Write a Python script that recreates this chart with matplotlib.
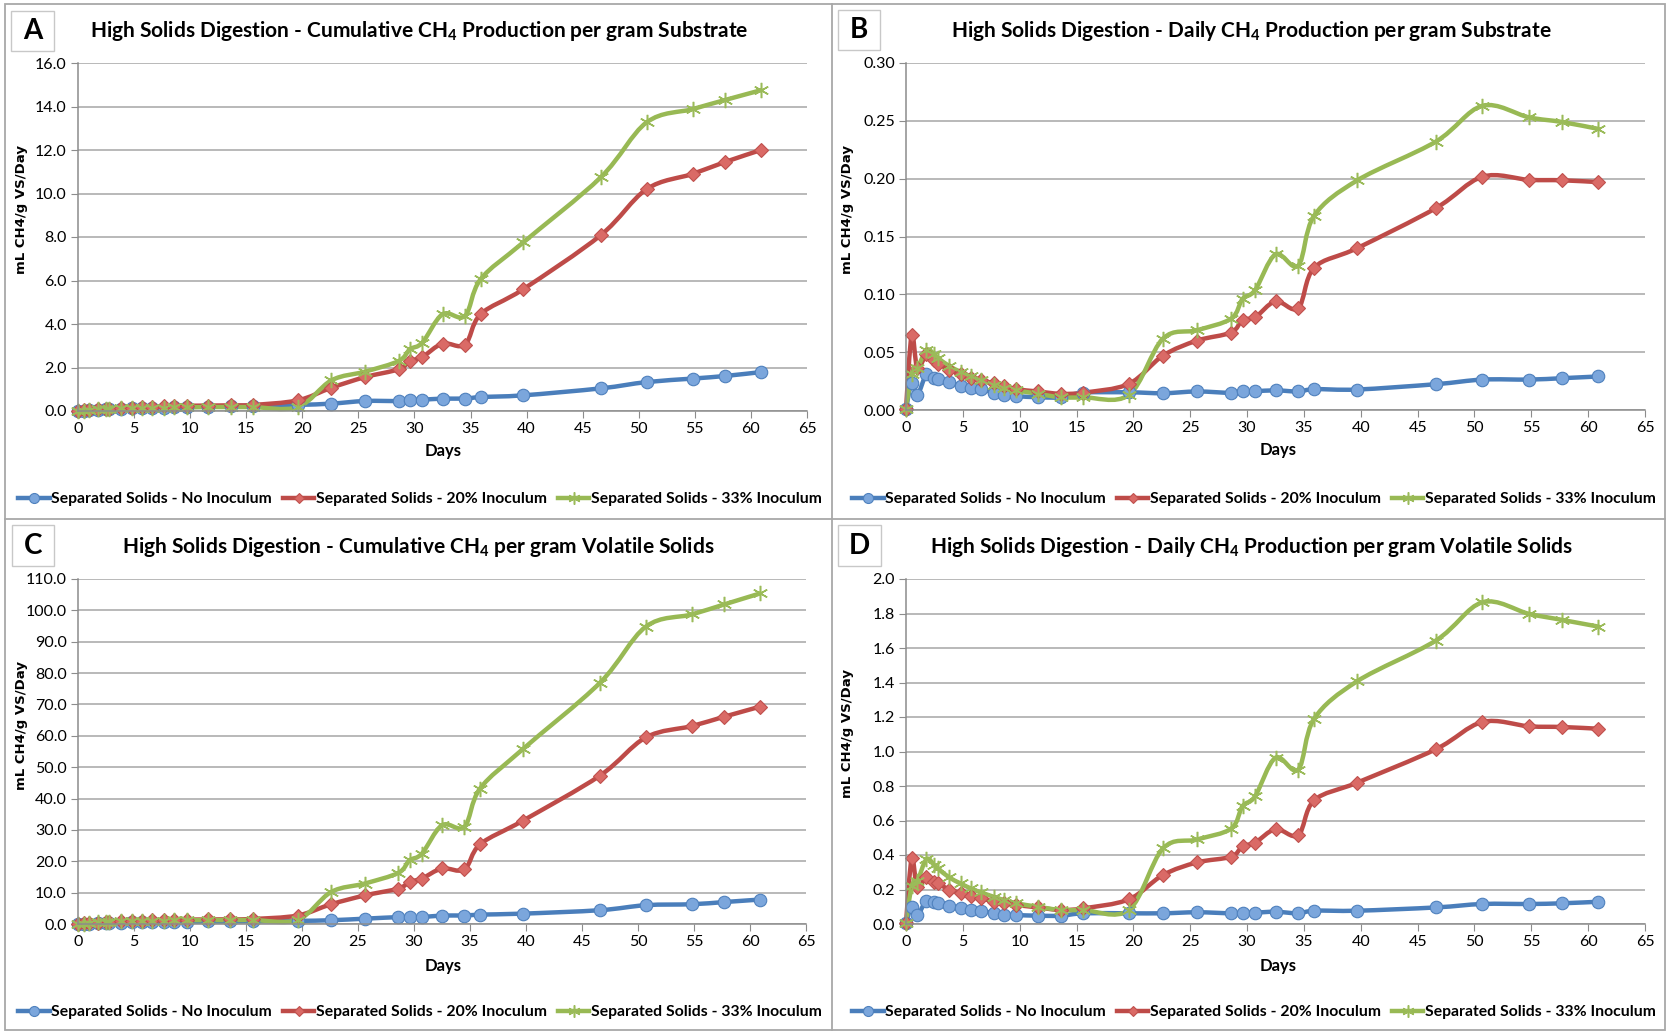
import matplotlib
matplotlib.use("Agg")
import matplotlib.pyplot as plt
from matplotlib.path import Path
from matplotlib.patches import PathPatch, Rectangle
from matplotlib.lines import Line2D
from matplotlib.ticker import FormatStrFormatter

plt.rcParams["font.family"] = ["Lato", "DejaVu Sans"]

# sampling days (shared by all series)
days = [0, 0.5, 1, 1.8, 2.5, 2.8, 3.8, 4.8, 5.7, 6.6, 7.7, 8.6, 9.7, 11.6, 13.6, 15.6,
        19.6, 22.6, 25.6, 28.6, 29.6, 30.7, 32.5, 34.5, 35.9, 39.7, 46.6, 50.7, 54.8, 57.7, 60.9]

series_names = ["Separated Solids - No Inoculum",
                "Separated Solids - 20% Inoculum",
                "Separated Solids - 33% Inoculum"]

# A - cumulative CH4 per gram substrate
blue_A = [0.0, 0.02, 0.03, 0.05, 0.07, 0.08, 0.10, 0.12, 0.13, 0.15, 0.16, 0.17, 0.18, 0.20, 0.22, 0.25,
          0.28, 0.34, 0.46, 0.46, 0.52, 0.52, 0.57, 0.57, 0.64, 0.72, 1.04, 1.33, 1.49, 1.61, 1.79]
red_A = [0.0, 0.03, 0.05, 0.08, 0.10, 0.11, 0.14, 0.16, 0.18, 0.20, 0.22, 0.23, 0.24, 0.25, 0.26, 0.28,
         0.49, 1.07, 1.56, 1.92, 2.30, 2.48, 3.10, 3.05, 4.45, 5.60, 8.08, 10.20, 10.90, 11.45, 12.00]
green_A = [0.0, 0.02, 0.04, 0.07, 0.09, 0.10, 0.12, 0.13, 0.14, 0.15, 0.16, 0.17, 0.17, 0.18, 0.18, 0.18,
           0.18, 1.41, 1.81, 2.30, 2.84, 3.14, 4.45, 4.37, 6.06, 7.75, 10.74, 13.27, 13.88, 14.30, 14.75]

# B - daily CH4 per gram substrate
blue_B = [0.001, 0.023, 0.013, 0.031, 0.028, 0.027, 0.024, 0.021, 0.019, 0.018, 0.015, 0.013, 0.012, 0.011, 0.011, 0.015,
          0.0153, 0.0145, 0.016, 0.0148, 0.016, 0.0162, 0.017, 0.016, 0.018, 0.0177, 0.0223, 0.0263, 0.0263, 0.0275, 0.029]
red_B = [0.001, 0.065, 0.036, 0.048, 0.043, 0.040, 0.035, 0.031, 0.028, 0.026, 0.023, 0.021, 0.018, 0.016, 0.014, 0.015,
         0.0226, 0.047, 0.060, 0.067, 0.078, 0.080, 0.094, 0.088, 0.123, 0.140, 0.1745, 0.2017, 0.199, 0.1986, 0.197]
green_B = [0.001, 0.031, 0.036, 0.052, 0.048, 0.045, 0.038, 0.033, 0.029, 0.026, 0.022, 0.019, 0.017, 0.014, 0.011, 0.011,
           0.013, 0.0617, 0.069, 0.079, 0.096, 0.1036, 0.1346, 0.1248, 0.168, 0.1986, 0.232, 0.263, 0.253, 0.249, 0.243]

# C - cumulative CH4 per gram volatile solids
blue_C = [0.0, 0.1, 0.15, 0.25, 0.3, 0.35, 0.45, 0.5, 0.55, 0.6, 0.65, 0.7, 0.75, 0.8, 0.85, 0.95,
          1.0, 1.2, 1.7, 2.2, 2.2, 2.2, 2.7, 2.7, 3.0, 3.3, 4.4, 6.0, 6.3, 7.0, 7.8]
red_C = [0.0, 0.2, 0.3, 0.45, 0.55, 0.65, 0.8, 0.95, 1.05, 1.15, 1.25, 1.3, 1.4, 1.45, 1.5, 1.6,
         2.7, 6.3, 9.1, 11.3, 13.4, 14.5, 17.7, 17.4, 25.4, 32.9, 47.3, 59.5, 63.1, 66.1, 69.3]
green_C = [0.0, 0.15, 0.3, 0.5, 0.6, 0.7, 0.85, 0.95, 1.0, 1.05, 1.1, 1.15, 1.2, 1.25, 1.25, 1.3,
           1.3, 10.2, 12.9, 16.3, 20.3, 22.4, 31.5, 31.0, 43.2, 55.7, 76.9, 94.8, 98.7, 101.9, 105.4]

# D - daily CH4 per gram volatile solids
blue_D = [0.005, 0.10, 0.052, 0.135, 0.125, 0.12, 0.104, 0.091, 0.081, 0.077, 0.062, 0.055, 0.052, 0.048, 0.048, 0.062,
          0.062, 0.062, 0.068, 0.062, 0.066, 0.066, 0.071, 0.062, 0.077, 0.077, 0.096, 0.116, 0.116, 0.12, 0.129]
red_D = [0.005, 0.38, 0.212, 0.274, 0.245, 0.235, 0.20, 0.18, 0.162, 0.149, 0.13, 0.12, 0.11, 0.096, 0.081, 0.091,
         0.143, 0.284, 0.357, 0.39, 0.451, 0.471, 0.55, 0.515, 0.717, 0.82, 1.013, 1.171, 1.146, 1.142, 1.132]
green_D = [0.005, 0.22, 0.25, 0.376, 0.34, 0.322, 0.27, 0.235, 0.206, 0.183, 0.158, 0.139, 0.12, 0.1, 0.081, 0.081,
           0.081, 0.438, 0.49, 0.553, 0.683, 0.74, 0.964, 0.895, 1.19, 1.408, 1.643, 1.865, 1.798, 1.763, 1.724]

W, H = 1669, 1032
fig = plt.figure(figsize=(W / 100, H / 100), dpi=100)


def fx(px):
    return px / W


def fy(py):
    return 1 - py / H


def smooth_path(x, y):
    # Excel-style smoothed line as cubic bezier segments through the points
    n = len(x)
    verts = [(x[0], y[0])]
    codes = [Path.MOVETO]
    for i in range(n - 1):
        a = max(i - 1, 0)
        b = min(i + 2, n - 1)
        c1 = (x[i] + (x[i + 1] - x[a]) / 6, y[i] + (y[i + 1] - y[a]) / 6)
        c2 = (x[i + 1] - (x[b] - x[i]) / 6, y[i + 1] - (y[b] - y[i]) / 6)
        verts += [c1, c2, (x[i + 1], y[i + 1])]
        codes += [Path.CURVE4] * 3
    return Path(verts, codes)


styles = [
    dict(color="#4A7EBB", marker="o", ms=9, mfc="#7BA6DC", mec="#4F81BD", mew=0.8),
    dict(color="#BE4B48", marker="D", ms=7, mfc="#DA6A66", mec="#C0504D", mew=0.8),
    dict(color="#98B954", marker=(6, 2, 0), ms=11, mfc="none", mec="#9BBB59", mew=1.1),
]

sub4 = r"$\mathregular{CH_4}$"
panels = [
    dict(box=(78, 63, 807, 411), data=(blue_A, red_A, green_A), ymax=16, step=2, fmt="%.1f",
         title="High Solids Digestion - Cumulative " + sub4 + " Production per gram Substrate",
         tpos=(419, 31), letter="A", lbox=(11, 11, 54, 51), days_pos=(443, 451),
         ylab=(21, 209), leg=(420, 499)),
    dict(box=(906, 63, 1645, 410), data=(blue_B, red_B, green_B), ymax=0.30, step=0.05, fmt="%.2f",
         title="High Solids Digestion - Daily " + sub4 + " Production per gram Substrate",
         tpos=(1251, 31), letter="B", lbox=(838, 10, 880, 50), days_pos=(1278, 450),
         ylab=(847, 210), leg=(1254, 499)),
    dict(box=(78, 579, 806, 924), data=(blue_C, red_C, green_C), ymax=110, step=10, fmt="%.1f",
         title="High Solids Digestion - Cumulative " + sub4 + " per gram Volatile Solids",
         tpos=(418, 547), letter="C", lbox=(12, 525, 54, 566), days_pos=(443, 966),
         ylab=(21, 726), leg=(420, 1012)),
    dict(box=(906, 579, 1645, 924), data=(blue_D, red_D, green_D), ymax=2.0, step=0.2, fmt="%.1f",
         title="High Solids Digestion - Daily " + sub4 + " Production per gram Volatile Solids",
         tpos=(1251, 547), letter="D", lbox=(838, 525, 881, 566), days_pos=(1278, 966),
         ylab=(847, 733), leg=(1254, 1012)),
]

gray = "#8C8C8C"

for p in panels:
    l, t, r, b = p["box"]
    ax = fig.add_axes([fx(l), fy(b), (r - l) / W, (b - t) / H])
    for vals, st in zip(p["data"], styles):
        patch = PathPatch(smooth_path(days, vals), fill=False, edgecolor=st["color"], lw=3.2,
                          capstyle="round", joinstyle="round", clip_on=False)
        ax.add_patch(patch)
        ax.plot(days, vals, linestyle="none", marker=st["marker"], ms=st["ms"], mfc=st["mfc"],
                mec=st["mec"], mew=st["mew"], clip_on=False)
    ax.set_xlim(0, 65)
    ax.set_xticks(range(0, 66, 5))
    ax.set_ylim(0, p["ymax"])
    n = int(round(p["ymax"] / p["step"]))
    ax.set_yticks([i * p["step"] for i in range(n + 1)])
    ax.yaxis.set_major_formatter(FormatStrFormatter(p["fmt"]))
    ax.grid(axis="y", color="#A6A6A6", lw=1.1)
    ax.set_axisbelow(True)
    for s in ["top", "right"]:
        ax.spines[s].set_visible(False)
    for s in ["left", "bottom"]:
        ax.spines[s].set_color(gray)
        ax.spines[s].set_linewidth(1.1)
    ax.tick_params(direction="out", length=5, color=gray, labelsize=11.5, pad=3)

    fig.text(fx(p["tpos"][0]), fy(p["tpos"][1]), p["title"], ha="center", va="center",
             fontsize=15, fontweight="bold")
    x0, y0, x1, y1 = p["lbox"]
    fig.add_artist(Rectangle((fx(x0), fy(y1)), (x1 - x0) / W, (y1 - y0) / H,
                             transform=fig.transFigure, fill=False, ec="#C8C8C8", lw=1))
    fig.text(fx((x0 + x1) / 2), fy((y0 + y1) / 2), p["letter"], ha="center", va="center",
             fontsize=20, fontweight="bold")
    fig.text(fx(p["days_pos"][0]), fy(p["days_pos"][1]), "Days", ha="center", va="center",
             fontsize=12, fontweight="bold")
    fig.text(fx(p["ylab"][0]), fy(p["ylab"][1]), "mL CH4/g VS/Day", ha="center", va="center",
             rotation=90, fontsize=9.5, fontweight="bold", family="DejaVu Sans")

    handles = [Line2D([], [], color=st["color"], lw=3.2, marker=st["marker"], ms=st["ms"] * 0.8,
                      mfc=st["mfc"], mec=st["mec"], mew=st["mew"]) for st in styles]
    fig.legend(handles, series_names, loc="center", bbox_to_anchor=(fx(p["leg"][0]), fy(p["leg"][1])),
               ncol=3, frameon=False, prop=dict(family="Lato", weight="bold", size=11.3),
               handlelength=2.0, handletextpad=0.1, columnspacing=0.7, borderaxespad=0,
               borderpad=0)

# panel frames
fig.add_artist(Rectangle((fx(5), fy(1030)), 1660 / W, 1026 / H, transform=fig.transFigure,
                         fill=False, ec="#A8A8A8", lw=1.3))
fig.add_artist(Line2D([fx(832), fx(832)], [fy(4), fy(1030)], transform=fig.transFigure,
                      color="#A8A8A8", lw=1.3))
fig.add_artist(Line2D([fx(5), fx(1665)], [fy(519), fy(519)], transform=fig.transFigure,
                      color="#A8A8A8", lw=1.3))

fig.savefig("out.png", dpi=100)
